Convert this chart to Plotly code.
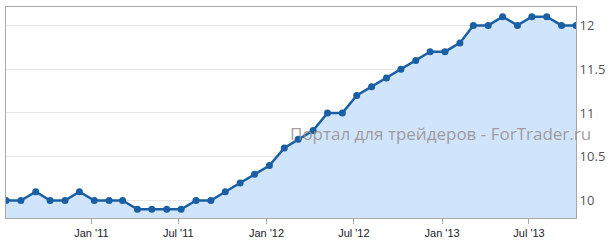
import plotly.graph_objects as go
import pandas as pd

dates = pd.date_range("2010-07-01", periods=40, freq="MS") + pd.Timedelta(days=6)
values = [10.0, 10.0, 10.1, 10.0, 10.0, 10.1, 10.0, 10.0, 10.0, 9.9,
          9.9, 9.9, 9.9, 10.0, 10.0, 10.1, 10.2, 10.3, 10.4, 10.6,
          10.7, 10.8, 11.0, 11.0, 11.2, 11.3, 11.4, 11.5, 11.6, 11.7,
          11.7, 11.8, 12.0, 12.0, 12.1, 12.0, 12.1, 12.1, 12.0, 12.0]
tick_dates = ["2011-01-01", "2011-07-01", "2012-01-01", "2012-07-01", "2013-01-01", "2013-07-01"]
tick_labels = ["Jan '11", "Jul '11", "Jan '12", "Jul '12", "Jan '13", "Jul '13"]
y_ticks = [10, 10.5, 11, 11.5, 12]
y_labels = ["10", "10.5", "11", "11.5", "12"]

fig = go.Figure()
fig.add_trace(go.Scatter(
    x=dates, y=values, mode="lines+markers",
    line=dict(color="#1a5fa3", width=2.5),
    marker=dict(color="#1a5fa3", size=7),
    fill="tozeroy", fillcolor="#d0e4fb",
    hoverinfo="skip",
))

fig.add_annotation(
    text="Портал для трейдеров - ForTrader.ru",
    xref="paper", yref="paper", x=1.03, y=0.40,
    xanchor="right", yanchor="middle", showarrow=False,
    font=dict(family="Open Sans", size=17, color="rgba(150,140,140,0.85)"),
)

fig.update_layout(
    width=610, height=244,
    margin=dict(l=5, r=31, t=7, b=21),
    paper_bgcolor="white", plot_bgcolor="white",
    showlegend=False,
    xaxis=dict(
        range=[dates[0], dates[-1]],
        tickvals=pd.to_datetime(tick_dates), ticktext=tick_labels,
        showgrid=False, showline=True, linecolor="#a8a8a8", linewidth=1, mirror=True,
        ticks="outside", ticklen=5, tickcolor="#a8a8a8",
        tickfont=dict(family="Liberation Sans", size=11, color="#1a1a2a"),
        zeroline=False,
    ),
    yaxis=dict(
        side="right", range=[9.8, 12.21],
        tickvals=y_ticks, ticktext=y_labels,
        showgrid=True, gridcolor="#e6e6e6", gridwidth=1,
        showline=True, linecolor="#a8a8a8", linewidth=1, mirror=True,
        ticks="", tickfont=dict(family="Open Sans", size=13, color="#555555"),
        zeroline=False,
    ),
)

fig.write_html("out.html")
